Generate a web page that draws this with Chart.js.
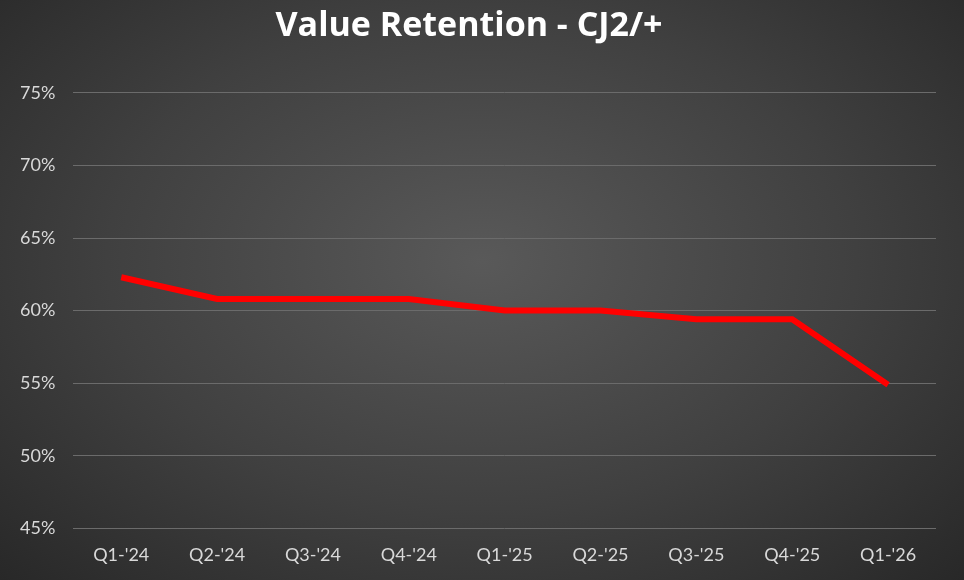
<!DOCTYPE html>
<html>
<head>
<meta charset="utf-8">
<script src="https://cdn.jsdelivr.net/npm/chart.js@4"></script>
<style>
  html, body { margin: 0; padding: 0; }
  body {
    width: 964px; height: 580px; overflow: hidden;
    background: radial-gradient(ellipse at 50% 45%, #595959 0%, #404040 55%, #282828 100%);
  }
  #wrap { width: 964px; height: 580px; }
</style>
</head>
<body>
<div id="wrap"><canvas id="chart"></canvas></div>
<script>
// Chart data
const quarters = ["Q1-'24", "Q2-'24", "Q3-'24", "Q4-'24", "Q1-'25", "Q2-'25", "Q3-'25", "Q4-'25", "Q1-'26"];
const retention = [62.3, 60.8, 60.8, 60.8, 60.0, 60.0, 59.4, 59.4, 54.9];
const yMin = 45, yMax = 75, yStep = 5;

new Chart(document.getElementById('chart'), {
    type: 'line',
    data: {
        labels: quarters,
        datasets: [{
            label: 'Value Retention',
            data: retention,
            borderColor: '#ff0000',
            borderWidth: 6,
            pointRadius: 0,
            tension: 0,
            borderCapStyle: 'butt'
        }]
    },
    options: {
        responsive: true,
        maintainAspectRatio: false,
        animation: false,
        layout: { padding: { left: 2, right: 28, top: 0, bottom: 6 } },
        plugins: {
            legend: { display: false },
            tooltip: { enabled: false },
            title: {
                display: true,
                text: 'Value Retention - CJ2/+',
                color: '#ffffff',
                font: { family: '"Open Sans", sans-serif', size: 34, weight: 'bold' },
                padding: { top: 6, bottom: 46 }
            }
        },
        scales: {
            x: {
                offset: true,
                grid: { display: false },
                border: { display: false },
                ticks: { color: '#d9d9d9', font: { family: 'Lato, "Open Sans", sans-serif', size: 18 }, padding: 8 }
            },
            y: {
                min: yMin, max: yMax,
                ticks: {
                    stepSize: yStep,
                    color: '#d9d9d9',
                    font: { family: 'Lato, "Open Sans", sans-serif', size: 18 },
                    padding: 18,
                    callback: v => v + '%'
                },
                grid: { color: '#6b6b6b', lineWidth: 1, drawTicks: false },
                border: { display: false }
            }
        }
    }
});
</script>
</body>
</html>
